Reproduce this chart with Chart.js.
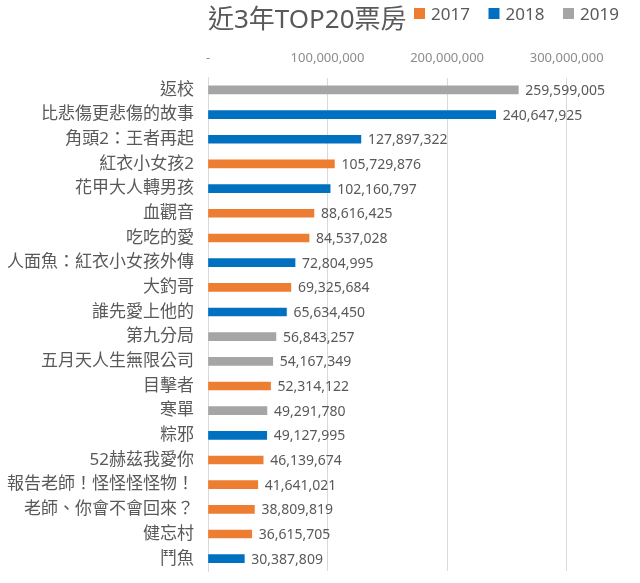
<!DOCTYPE html>
<html>
<head>
<meta charset="utf-8">
<script src="https://cdn.jsdelivr.net/npm/chart.js@4"></script>
<style>
  html, body { margin: 0; padding: 0; background: #fff; }
  #wrap { width: 640px; height: 583px; }
</style>
</head>
<body>
<div id="wrap"><canvas id="boxChart"></canvas></div>
<script>
const FONT = '"Noto Sans", "Noto Sans CJK TC", sans-serif';

const titles = ["返校", "比悲傷更悲傷的故事", "角頭2：王者再起", "紅衣小女孩2", "花甲大人轉男孩",
  "血觀音", "吃吃的愛", "人面魚：紅衣小女孩外傳", "大釣哥", "誰先愛上他的",
  "第九分局", "五月天人生無限公司", "目擊者", "寒單", "粽邪",
  "52赫茲我愛你", "報告老師！怪怪怪怪物！", "老師、你會不會回來？", "健忘村", "鬥魚"];
const boxOffice = [259599005, 240647925, 127897322, 105729876, 102160797,
  88616425, 84537028, 72804995, 69325684, 65634450,
  56843257, 54167349, 52314122, 49291780, 49127995,
  46139674, 41641021, 38809819, 36615705, 30387809];
const releaseYear = ["2019", "2018", "2018", "2017", "2018",
  "2017", "2017", "2018", "2017", "2018",
  "2019", "2019", "2017", "2019", "2018",
  "2017", "2017", "2017", "2017", "2018"];
const years = ["2017", "2018", "2019"];
const yearColors = ["#ED7D31", "#0070C0", "#A5A5A5"];
const xTicks = [0, 100000000, 200000000, 300000000];

// labels at the end of each bar
const valueLabels = {
  id: 'valueLabels',
  afterDatasetsDraw(chart) {
    const ctx = chart.ctx;
    ctx.save();
    ctx.font = '14px ' + FONT;
    ctx.fillStyle = '#595959';
    ctx.textBaseline = 'middle';
    ctx.textAlign = 'left';
    chart.data.datasets.forEach((ds, i) => {
      chart.getDatasetMeta(i).data.forEach((bar, j) => {
        const v = ds.data[j];
        if (v == null) return;
        ctx.fillText(v.toLocaleString('en-US'), bar.x + 7, bar.y + 1);
      });
    });
    ctx.restore();
  }
};

// title and legend share the top row
const header = {
  id: 'header',
  afterDraw(chart) {
    const ctx = chart.ctx;
    ctx.save();
    ctx.textBaseline = 'middle';
    ctx.textAlign = 'left';
    ctx.fillStyle = '#595959';
    ctx.font = '26px ' + FONT;
    ctx.fillText('近3年TOP20票房', chart.chartArea.left, 21);
    ctx.font = '17px ' + FONT;
    chart.data.datasets.forEach((ds, i) => {
      const x = 414 + i * 74.5;
      ctx.fillStyle = ds.backgroundColor;
      ctx.fillRect(x, 8, 11, 11);
      ctx.fillStyle = '#595959';
      ctx.fillText(ds.label, x + 17, 15);
    });
    ctx.restore();
  }
};

new Chart(document.getElementById('boxChart'), {
  type: 'bar',
  data: {
    labels: titles,
    datasets: years.map((y, k) => ({
      label: y,
      backgroundColor: yearColors[k],
      data: boxOffice.map((v, i) => releaseYear[i] === y ? v : null),
      barThickness: 8
    }))
  },
  plugins: [valueLabels, header],
  options: {
    indexAxis: 'y',
    responsive: true,
    maintainAspectRatio: false,
    animation: false,
    layout: { padding: { top: 38, right: 10, bottom: 12, left: 0 } },
    plugins: {
      legend: { display: false },
      title: { display: false },
      tooltip: { enabled: false }
    },
    scales: {
      x: {
        position: 'top',
        stacked: true,
        min: 0,
        max: 353000000,
        afterBuildTicks: (scale) => {
          scale.ticks = xTicks.map(v => ({ value: v }));
        },
        ticks: {
          font: { family: FONT, size: 13 },
          color: '#8c8c8c',
          padding: 12,
          callback: (v) => v === 0 ? '-' : Number(v).toLocaleString('en-US')
        },
        grid: { color: '#d9d9d9', drawTicks: false },
        border: { display: false }
      },
      y: {
        stacked: true,
        afterFit: (scale) => {
          scale.width = 208;
          scale.paddingTop = 0;
          scale.paddingBottom = 0;
        },
        ticks: {
          font: { family: FONT, size: 17 },
          color: '#595959',
          padding: 14,
          autoSkip: false
        },
        grid: { display: false, drawTicks: false },
        border: { display: true, color: '#d9d9d9' }
      }
    }
  }
});
</script>
</body>
</html>
